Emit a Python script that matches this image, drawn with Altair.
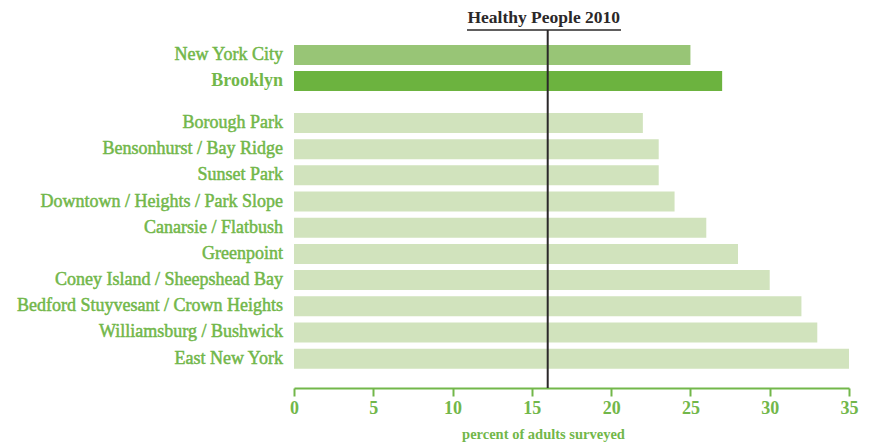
import altair as alt
import pandas as pd

areas = ["New York City", "Brooklyn", "Borough Park", "Bensonhurst / Bay Ridge",
         "Sunset Park", "Downtown / Heights / Park Slope", "Canarsie / Flatbush",
         "Greenpoint", "Coney Island / Sheepshead Bay",
         "Bedford Stuyvesant / Crown Heights", "Williamsburg / Bushwick",
         "East New York"]
values = [25, 27, 22, 23, 23, 24, 26, 28, 30, 32, 33, 35]
groups = ["city", "borough"] + ["neighborhood"] * 10
target = 16
target_label = "Healthy People 2010"
x_ticks = [0, 5, 10, 15, 20, 25, 30, 35]

GREEN_TEXT = "#72b74a"
DARK = "#2b2829"

rows = []
for i, (a, v, g) in enumerate(zip(areas, values, groups)):
    pos = i + (0.6 if i >= 2 else 0)
    rows.append({"area": a, "value": v, "group": g, "pos": pos})
df = pd.DataFrame(rows)

# reversed so first row is at the top
yscale = alt.Scale(domain=[12.72, -0.95], nice=False, zero=False, padding=0)

base = alt.Chart(df)

bars = base.mark_bar(orient="horizontal", size=20).encode(
    x=alt.X("value:Q", scale=alt.Scale(domain=[0, 35], nice=False),
            axis=alt.Axis(values=x_ticks, title="percent of adults surveyed",
                          grid=False, domainColor=GREEN_TEXT, domainWidth=2,
                          tickColor=GREEN_TEXT, tickWidth=2, tickSize=8,
                          labelColor=GREEN_TEXT, labelFont="Liberation Serif",
                          labelFontSize=18, labelFontWeight="bold", labelPadding=3,
                          labelFlush=False,
                          titleColor=GREEN_TEXT, titleFont="Liberation Serif",
                          titleFontSize=14.5, titleFontWeight="bold", titlePadding=10,
                          titleX=249, titleAlign="center")),
    y=alt.Y("pos:Q", scale=yscale, axis=None),
    color=alt.Color("group:N",
                    scale=alt.Scale(domain=["city", "borough", "neighborhood"],
                                    range=["#98c576", "#6cb33f", "#d1e3bd"]),
                    legend=None),
)

labels_normal = base.transform_filter(alt.datum.group != "borough").mark_text(
    align="right", baseline="middle", dx=-11, font="Liberation Serif",
    fontSize=18, color=GREEN_TEXT, stroke=GREEN_TEXT, strokeWidth=0.5).encode(
    x=alt.datum(0), y=alt.Y("pos:Q", scale=yscale), text="area:N")

labels_bold = base.transform_filter(alt.datum.group == "borough").mark_text(
    align="right", baseline="middle", dx=-11, font="Liberation Serif",
    fontSize=18, fontWeight="bold", color=GREEN_TEXT).encode(
    x=alt.datum(0), y=alt.Y("pos:Q", scale=yscale), text="area:N")

rule = alt.Chart(pd.DataFrame({"t": [target]})).mark_rule(
    color=DARK, strokeWidth=2).encode(x=alt.X("t:Q"))

rule_title = alt.Chart(pd.DataFrame({"t": [target], "label": [target_label]})).mark_text(
    align="center", baseline="alphabetic", dx=-4, font="Liberation Serif",
    fontSize=17.5, fontWeight="bold", color=DARK).encode(
    x=alt.X("t:Q"), y=alt.value(-7), text="label:N")

underline = alt.Chart(pd.DataFrame({"t": [target]})).mark_rule(
    color=DARK, strokeWidth=1.5).encode(
    x=alt.value(173), x2=alt.value(327), y=alt.value(0))

chart = alt.layer(bars, labels_normal, labels_bold, rule, underline, rule_title).properties(
    width=555, height=358,
    autosize=alt.AutoSizeParams(type="none"),
    padding={"left": 286, "top": 22, "right": 14, "bottom": 56},
    background="white",
).configure_view(stroke=None)

chart.save("out.html", embed_options={"renderer": "svg", "actions": False})
